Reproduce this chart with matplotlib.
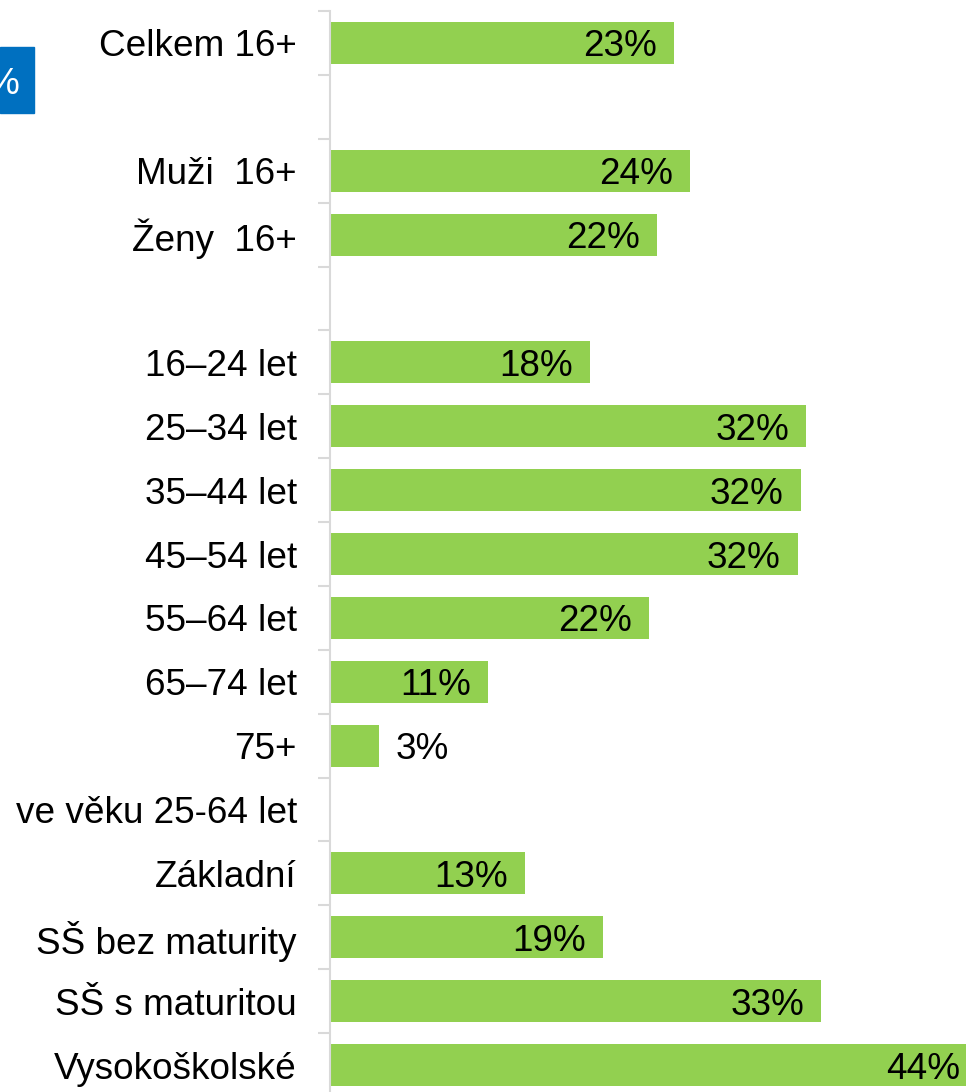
import matplotlib
matplotlib.use("Agg")
import matplotlib.pyplot as plt
from matplotlib.patches import Rectangle

categories = ["Celkem 16+", "", "Muži  16+", "Ženy  16+", "",
              "16–24 let", "25–34 let", "35–44 let", "45–54 let", "55–64 let",
              "65–74 let", "75+", "ve věku 25-64 let",
              "Základní", "SŠ bez maturity", "SŠ s maturitou", "Vysokoškolské"]
values = [23.3, None, 24.4, 22.2, None,
          17.6, 32.3, 31.9, 31.7, 21.6, 10.7, 3.3, None,
          13.2, 18.5, 33.3, 43.9]
labels = ["23%", "", "24%", "22%", "",
          "18%", "32%", "32%", "32%", "22%", "11%", "3%", "",
          "13%", "19%", "33%", "44%"]

W, H, DPI = 966, 1092, 100
FS = 26.6
FONT = "Liberation Sans"
GREEN = "#92D050"
GRAY = "#D9D9D9"

plt.rcParams["font.family"] = [FONT, "DejaVu Sans"]

fig = plt.figure(figsize=(W / DPI, H / DPI), dpi=DPI)
ax_left, ax_right = 330, 966
ax_top, ax_bottom = 11, 1097
ax = fig.add_axes([ax_left / W, (H - ax_bottom) / H,
                   (ax_right - ax_left) / W, (ax_bottom - ax_top) / H])

px_per_unit = 14.75
pt = 72 / DPI
n = len(categories)
ypos = list(range(n))
for y, v, lab in zip(ypos, values, labels):
    if v is None:
        continue
    ax.barh(y, v, height=0.66, color=GREEN, clip_on=False)
    pad = 17 * pt
    dy = -4 * pt
    if v * px_per_unit < 90:
        ax.annotate(lab, (v, y), xytext=(pad, dy), textcoords="offset points",
                    ha="left", va="center", fontsize=FS, color="black",
                    annotation_clip=False)
    else:
        ax.annotate(lab, (v, y), xytext=(-pad, dy), textcoords="offset points",
                    ha="right", va="center", fontsize=FS, color="black",
                    annotation_clip=False)

ax.set_xlim(0, (ax_right - ax_left) / px_per_unit)
ax.set_ylim(n - 0.5, -0.5)
ax.set_xticks([])
ax.set_yticks(ypos)
ax.set_yticklabels(categories, fontsize=FS)
ax.set_yticks([i - 0.5 for i in range(n + 1)], minor=True)
ax.tick_params(axis="y", which="major", length=0, pad=33 * pt)
ax.tick_params(axis="y", which="minor", length=12 * pt, width=1.5,
               color=GRAY)
for s in ["top", "right", "bottom"]:
    ax.spines[s].set_visible(False)
ax.spines["left"].set_color(GRAY)
ax.spines["left"].set_linewidth(1.5)

# blue "%" box at the top left (cut off by the figure edge, as in the source)
fig.patches.append(Rectangle((0, (H - 113) / H), 34 / W, 66 / H,
                             transform=fig.transFigure, color="#0070C0"))
fig.text(19 / W, (H - 84) / H, "%", ha="right", va="center", fontsize=FS,
         color="white")

fig.savefig("out.png", dpi=DPI)
